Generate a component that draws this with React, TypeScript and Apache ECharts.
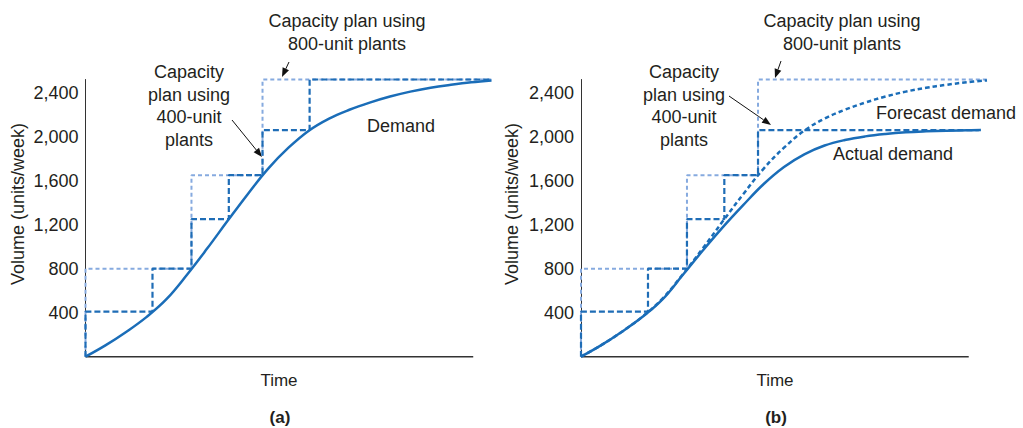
import React, { useEffect, useRef } from "react";
import * as echarts from "echarts";

// ---- Data (time units: 0..100 along each panel's x axis) ----
// Panel (a)
const planA400Times = [0, 0, 16.5, 26.1, 35.3, 43.6, 55.2, 100];
const planA400Levels = [0, 410, 800, 1250, 1650, 2060, 2520, 2520];
const planA800Times = [0, 0, 26.1, 43.6, 100];
const planA800Levels = [0, 800, 1650, 2520, 2520];
const demandTimes = [0, 5, 10, 15, 20, 25, 30, 35, 40, 45, 50, 55, 60, 65, 70, 75, 80, 85, 90, 95, 100];
const demandValues = [0, 105, 225, 360, 525, 745, 985, 1235, 1480, 1710, 1900, 2055, 2165, 2245, 2310, 2365, 2410, 2445, 2472, 2495, 2512];

// Panel (b)
const planB400Times = [0, 0, 16.5, 26.1, 35.3, 43.6, 98];
const planB400Levels = [0, 410, 800, 1250, 1650, 2060, 2060];
const planB800Times = [0, 0, 26.1, 43.6, 100];
const planB800Levels = [0, 800, 1650, 2520, 2520];
const forecastTimes = demandTimes;
const forecastValues = demandValues;
const actualTimes = [0, 5, 10, 15, 20, 25, 30, 35, 40, 45, 50, 55, 60, 65, 70, 75, 80, 85, 90, 95, 98.5];
const actualValues = [0, 105, 225, 358, 518, 740, 965, 1180, 1380, 1570, 1725, 1840, 1920, 1970, 2003, 2025, 2040, 2049, 2055, 2058, 2060];

const yTicks = [400, 800, 1200, 1600, 2000, 2400];
const baselineTimes = [0, 95.5];

const DARK = "#1f6db6";
const LIGHT = "#86aadf";
const SOLID = "#1a6db8";
const TEXT = "#231f20";
const FONT = "'Liberation Sans', Arial, Helvetica, sans-serif";

const zip = (xs: number[], ys: number[]) => xs.map((x, i) => [x, ys[i]]);

function arrow(x1: number, y1: number, x2: number, y2: number) {
  const dx = x2 - x1, dy = y2 - y1;
  const len = Math.sqrt(dx * dx + dy * dy);
  const ux = dx / len, uy = dy / len;
  const hl = 9, hw = 3.5;
  const bx = x2 - ux * hl, by = y2 - uy * hl;
  return [
    { type: "line", shape: { x1, y1, x2: bx, y2: by }, style: { stroke: "#111", lineWidth: 1 } },
    {
      type: "polygon",
      shape: { points: [[x2, y2], [bx - uy * hw, by + ux * hw], [bx + uy * hw, by - ux * hw]] },
      style: { fill: "#111" },
    },
  ];
}

function txt(text: string, x: number, y: number, opts: any = {}) {
  return {
    type: "text",
    x,
    y,
    rotation: opts.rotation || 0,
    style: {
      text,
      fill: TEXT,
      font: `${opts.bold ? "bold " : ""}${opts.size || 18}px ${FONT}`,
      textAlign: opts.align || "center",
      textVerticalAlign: "middle",
    },
  };
}

export default function App() {
  const ref = useRef<HTMLDivElement>(null);
  useEffect(() => {
    if (!ref.current) return;
    const chart = echarts.init(ref.current, undefined, { renderer: "svg" });
    const gridTop = 79.5;
    const gridH = 277.2;
    const grids = [
      { left: 85.5, top: gridTop, width: 406, height: gridH },
      { left: 581, top: gridTop, width: 406, height: gridH },
    ];
    const xAxis = [0, 1].map((i) => ({
      type: "value",
      gridIndex: i,
      min: 0,
      max: 100,
      axisLine: { show: false },
      axisTick: { show: false },
      axisLabel: { show: false },
      splitLine: { show: false },
    }));
    const yAxis = [0, 1].map((i) => ({
      type: "value",
      gridIndex: i,
      min: 0,
      max: 2520,
      interval: 400,
      offset: 1,
      axisLine: { show: true, lineStyle: { color: "#333", width: 1 } },
      axisTick: { show: false },
      splitLine: { show: false },
      axisLabel: {
        margin: 6,
        color: TEXT,
        fontSize: 18,
        fontFamily: FONT,
        showMaxLabel: false,
        formatter: (v: number) => (yTicks.includes(v) ? v.toLocaleString("en-US") : ""),
      },
    }));

    const step = (name: string, i: number, data: number[][], color: string, dash: number[], z: number, w = 2) => ({
      name,
      type: "line",
      xAxisIndex: i,
      yAxisIndex: i,
      data,
      step: "end",
      symbol: "none",
      clip: false,
      z,
      lineStyle: { color, width: w, type: dash },
    });
    const curve = (name: string, i: number, data: number[][], dash: any, z: number) => ({
      name,
      type: "line",
      xAxisIndex: i,
      yAxisIndex: i,
      data,
      smooth: 0.4,
      symbol: "none",
      clip: false,
      z,
      lineStyle: { color: SOLID, width: 2.5, type: dash, cap: "butt" },
    });
    const baseline = (i: number) => ({
      name: "axis",
      type: "line",
      xAxisIndex: i,
      yAxisIndex: i,
      data: zip(baselineTimes, [0, 0]),
      symbol: "none",
      clip: false,
      z: 1,
      silent: true,
      lineStyle: { color: "#333", width: 1.5 },
    });

    const series = [
      baseline(0),
      step("800-unit plan (a)", 0, zip(planA800Times, planA800Levels), LIGHT, [4, 3], 2),
      step("400-unit plan (a)", 0, zip(planA400Times, planA400Levels), DARK, [6, 3], 3, 2.2),
      curve("Demand", 0, zip(demandTimes, demandValues), "solid", 4),
      baseline(1),
      step("800-unit plan (b)", 1, zip(planB800Times, planB800Levels), LIGHT, [4, 3], 2),
      step("400-unit plan (b)", 1, zip(planB400Times, planB400Levels), DARK, [6, 3], 3, 2.2),
      curve("Forecast demand", 1, zip(forecastTimes, forecastValues), [4.5, 3], 4),
      curve("Actual demand", 1, zip(actualTimes, actualValues), "solid", 5),
    ];

    const graphics: any[] = [
      // Panel (a)
      txt("Capacity plan using", 347, 21),
      txt("800-unit plants", 347, 44),
      ...arrow(289, 62, 282, 77),
      txt("Capacity", 189, 72),
      txt("plan using", 189, 95),
      txt("400-unit", 189, 117),
      txt("plants", 189, 140),
      ...arrow(232, 120, 262, 157),
      txt("Demand", 401, 126),
      txt("Volume (units/week)", 18, 204, { rotation: Math.PI / 2 }),
      txt("Time", 279, 380, { size: 17 }),
      txt("(a)", 280, 417, { size: 17, bold: true }),
      // Panel (b)
      txt("Capacity plan using", 842, 21),
      txt("800-unit plants", 842, 44),
      ...arrow(781, 61, 775, 78),
      txt("Capacity", 684, 72),
      txt("plan using", 684, 95),
      txt("400-unit", 684, 117),
      txt("plants", 684, 140),
      ...arrow(729, 96, 771, 125),
      txt("Forecast demand", 876, 113, { align: "left" }),
      txt("Actual demand", 893, 154),
      txt("Volume (units/week)", 512, 204, { rotation: Math.PI / 2 }),
      txt("Time", 775, 380, { size: 17 }),
      txt("(b)", 776, 417, { size: 17, bold: true }),
    ];

    chart.setOption({
      animation: false,
      backgroundColor: "#ffffff",
      grid: grids,
      xAxis,
      yAxis,
      series,
      graphic: graphics,
    });
    return () => chart.dispose();
  }, []);
  return (
    <div
      ref={ref}
      style={{ position: "fixed", left: 0, top: 0, width: 1023, height: 428, background: "#fff" }}
    />
  );
}
